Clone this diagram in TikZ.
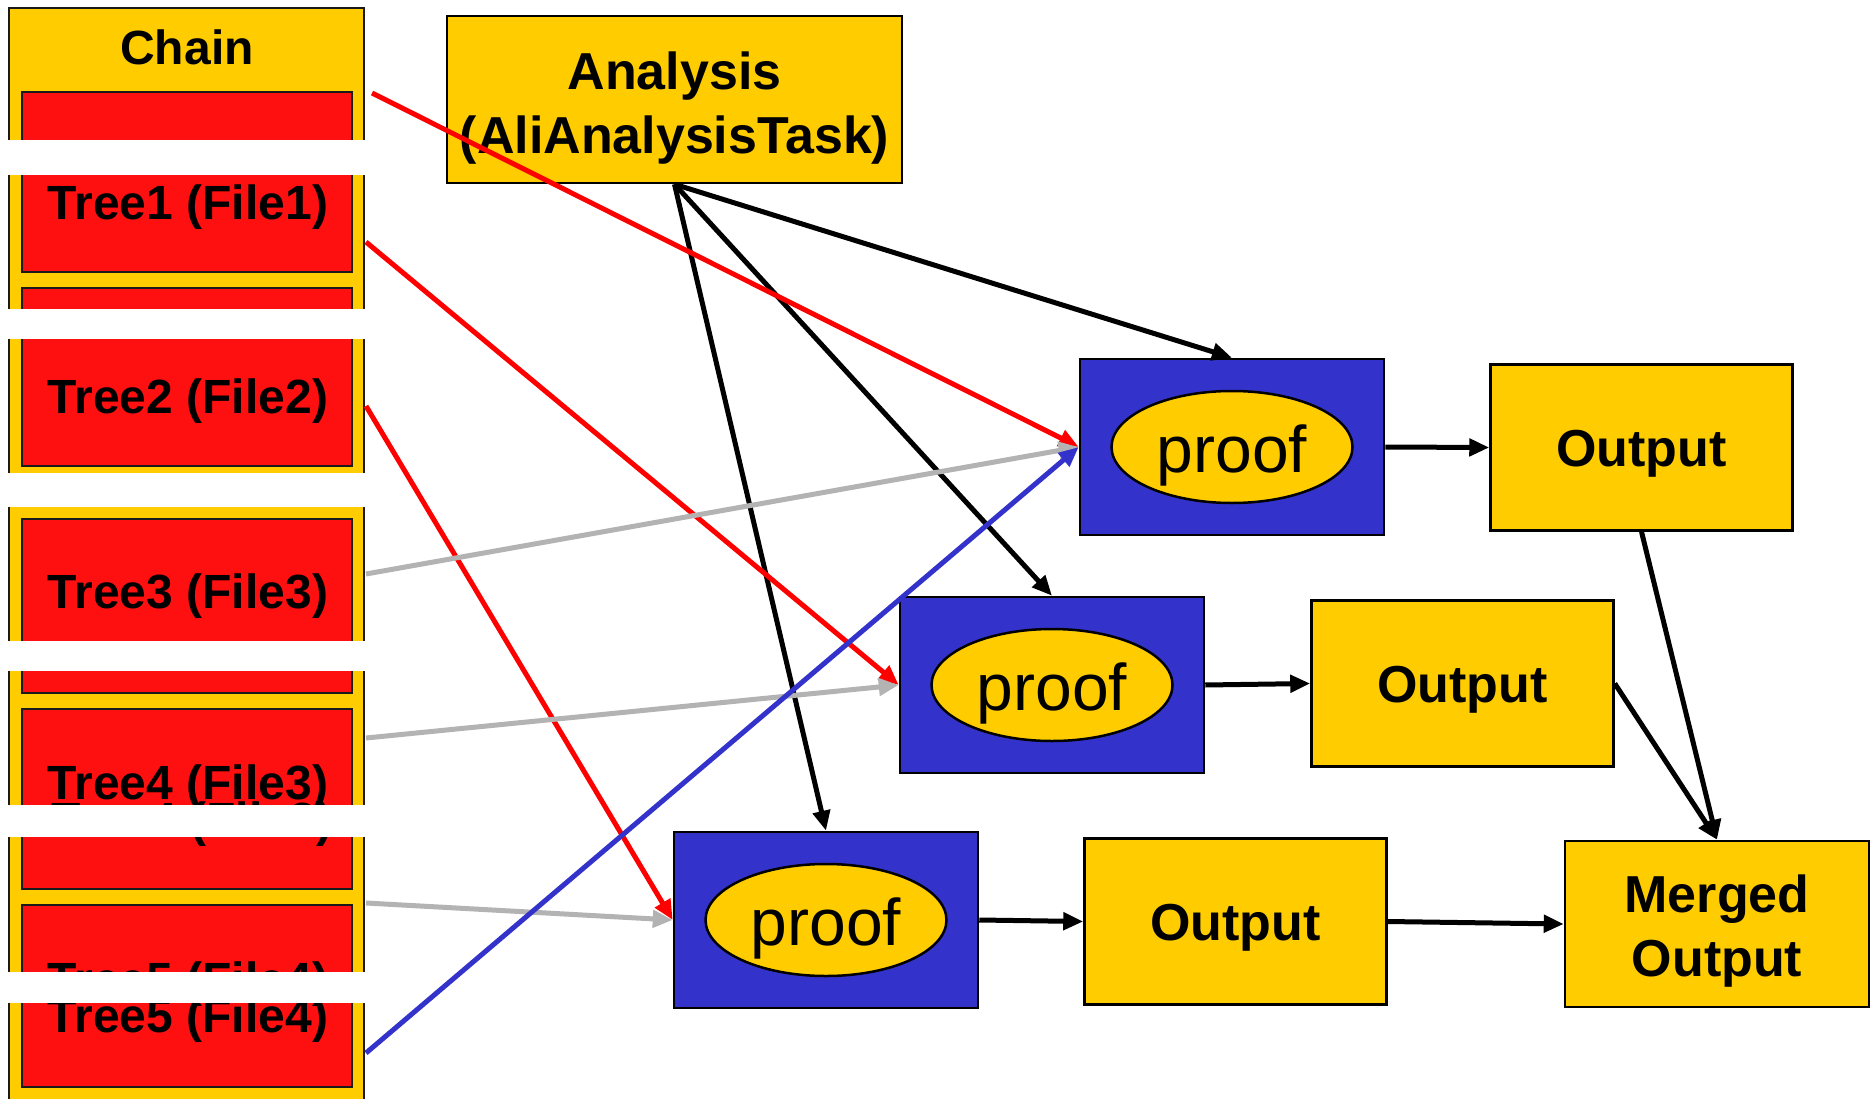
\documentclass[tikz,border=0pt]{standalone}
\usepackage{fontspec}
\setmainfont{Liberation Sans}
\usetikzlibrary{arrows.meta,shapes.geometric}

\definecolor{gold}{HTML}{FFCC00}
\definecolor{treered}{HTML}{FF1010}
\definecolor{linkred}{HTML}{FF0000}
\definecolor{proofblue}{HTML}{3333CC}
\definecolor{linkgray}{HTML}{B3B3B3}
\definecolor{edge}{HTML}{1A1A1A}

\tikzset{
  outbox/.style={draw=black, line width=2.5pt, fill=gold, inner sep=0pt,
    minimum width=302pt, minimum height=166pt, align=center,
    font=\fontsize{52}{64}\selectfont\bfseries},
  onebox/.style={outbox, text height=37pt, text depth=0pt},
  proofbox/.style={draw=black, line width=2.5pt, fill=proofblue, inner sep=0pt,
    minimum width=304pt, minimum height=176pt},
  proofoval/.style={ellipse, draw=black, line width=2.5pt, fill=gold, inner sep=0pt,
    minimum width=241pt, minimum height=112pt, text height=50pt, text depth=0pt,
    font=\fontsize{66}{70}\selectfont},
  treelabel/.style={anchor=base, inner sep=0pt, font=\fontsize{48}{50}\selectfont\bfseries},
  treebox/.style={draw=edge, line width=2.5pt, fill=treered},
  gapband/.style={fill=white, draw=none},
  link/.style={line width=5pt, -{Triangle[length=20pt,width=17pt]}},
}

\begin{document}
\begin{tikzpicture}[x=1pt,y=-1pt]
\useasboundingbox (0,0) rectangle (1870,1099);
\fill[white] (0,0) rectangle (1870,1099);

% chain column with its tree slots
\fill[gold] (8,7) rectangle (365,1099);
\draw[edge, line width=2.5pt] (9,1099) -- (9,8) -- (364,8) -- (364,1099);
\draw[treebox] (22,92) rectangle (352,272);
\draw[treebox] (22,288) rectangle (352,466);
\draw[treebox] (22,519) rectangle (352,693);
\draw[treebox] (22,709) rectangle (352,889);
\draw[treebox] (22,905) rectangle (352,1087);

\node[treelabel] (chain) at (187,65) {Chain};
\node[treelabel] (tree1) at (188,220) {Tree1 (File1)};
\node[treelabel] (tree2) at (188,413) {Tree2 (File2)};
\node[treelabel] (tree3) at (188,608) {Tree3 (File3)};
\node[treelabel] (tree4) at (188,799) {Tree4 (File3)};
\node[treelabel] (tree4b) at (192,836) {Tree4 (File3)};
\node[treelabel] (tree5a) at (188,996) {Tree5 (File4)};
\node[treelabel] (tree5) at (188,1032) {Tree5 (File4)};

% white gaps cut across the column
\fill[gapband] (0,140) rectangle (368,175);
\fill[gapband] (0,309) rectangle (368,339);
\fill[gapband] (0,473) rectangle (368,507);
\fill[gapband] (0,641) rectangle (368,671);
\fill[gapband] (0,805) rectangle (368,837);
\fill[gapband] (0,972) rectangle (368,1003);

% start points on the column edge
\coordinate (s0) at (372,93);
\coordinate (s1) at (366,242);
\coordinate (s2) at (366,406);
\coordinate (s3) at (366,574);
\coordinate (s4) at (366,738);
\coordinate (s5) at (366,903);
\coordinate (s6) at (366,1053);

% analysis task
\node[outbox, minimum width=455pt, minimum height=167pt] (ana) at (674.5,99.5)
  {\rule{0pt}{54pt}Analysis\\(AliAnalysisTask)};

% proof workers
\node[proofbox] (p1) at (1232,447) {};
\node[proofoval] (e1) at (p1.center) {proof};
\node[proofbox] (p2) at (1052,685) {};
\node[proofoval] (e2) at (p2.center) {proof};
\node[proofbox] (p3) at (826,920) {};
\node[proofoval] (e3) at (p3.center) {proof};

% outputs
\node[onebox] (o1) at (1641.5,447.5) {Output};
\node[onebox] (o2) at (1462.5,683.5) {Output};
\node[onebox] (o3) at (1235.5,921.5) {Output};
\node[outbox, minimum width=304pt] (mo) at (1717,924) {\rule{0pt}{52pt}Merged\\Output};

% task distribution
\draw[link, black] (ana.south) -- (p1.north);
\draw[link, black] (ana.south) -- (p2.north);
\draw[link, black] (ana.south) -- (p3.north);

% trees feeding the workers
\draw[link, linkred] (s0) -- (p1.west);
\draw[link, linkred] (s1) -- (p2.west);
\draw[link, linkred] (s2) -- (p3.west);
\draw[link, linkgray] (s3) -- (p1.west);
\draw[link, linkgray] (s4) -- (p2.west);
\draw[link, linkgray] (s5) -- (p3.west);
\draw[link, proofblue] (s6) -- (p1.west);

% results and merging
\draw[link, black] (p1.east) -- (o1.west);
\draw[link, black] (p2.east) -- (o2.west);
\draw[link, black] (p3.east) -- (o3.west);
\draw[link, black] (o3.east) -- (mo.west);
\draw[link, black] (o1.south) -- (mo.north);
\draw[link, black] (o2.east) -- (mo.north);
\end{tikzpicture}
\end{document}
